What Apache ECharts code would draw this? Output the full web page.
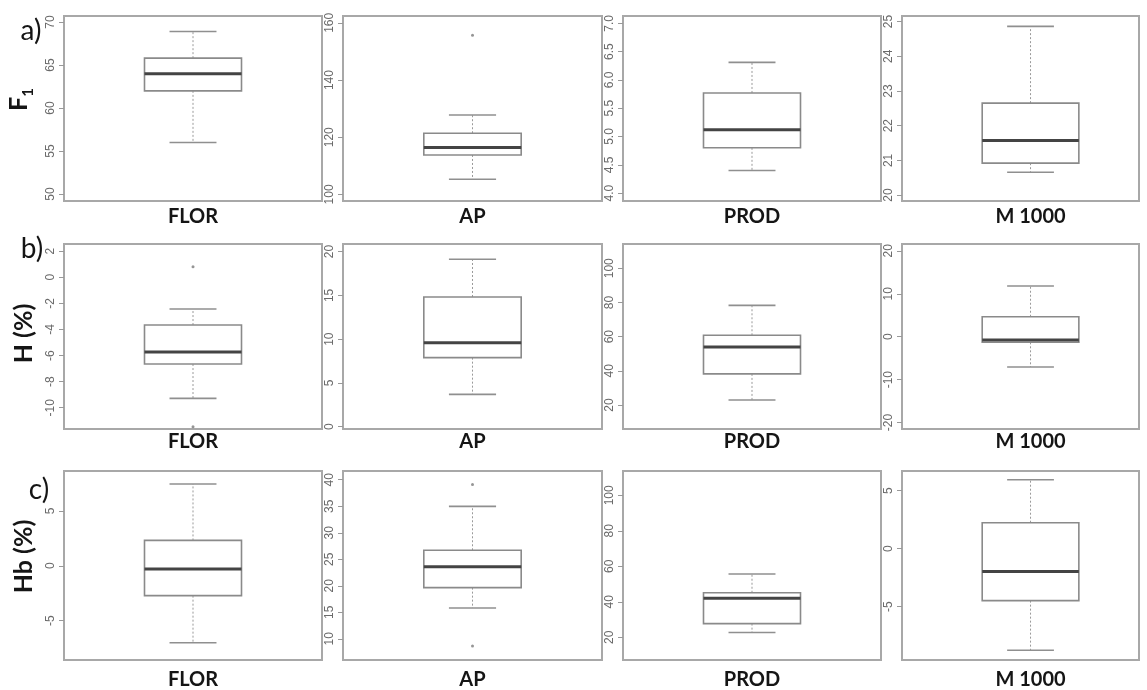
<!DOCTYPE html>
<html><head><meta charset="utf-8">
<script src="https://cdn.jsdelivr.net/npm/echarts@6/dist/echarts.min.js"></script>
<style>html,body{margin:0;padding:0;background:#fff}#c{width:1147px;height:690px}</style>
</head><body><div id="c"></div><script>
// ---- data ----
const categories = ['FLOR', 'AP', 'PROD', 'M 1000'];
const rowTags = ['a)', 'b)', 'c)'];
const rowTitles = ['{m|F}{s|1}', 'H (%)', 'Hb (%)'];
// [lower whisker, Q1, median, Q3, upper whisker]
const statsF1 = [[56.0, 62.0, 64.0, 65.8, 68.9], [105.3, 113.8, 116.4, 121.4, 127.8], [4.40, 4.80, 5.12, 5.77, 6.31], [20.66, 20.92, 21.57, 22.65, 24.86]];
const statsH = [[-9.28, -6.65, -5.73, -3.66, -2.43], [3.7, 7.89, 9.6, 14.82, 19.13], [22.9, 38.2, 53.95, 60.8, 78.3], [-7.05, -1.3, -0.77, 4.65, 11.8]];
const statsHb = [[-7.01, -2.72, -0.3, 2.31, 7.45], [15.8, 19.65, 23.6, 26.7, 34.98], [22.7, 27.7, 41.96, 45.1, 55.7], [-8.76, -4.48, -1.96, 2.24, 5.94]];
const outliersF1 = [[], [155.7], [], []];
const outliersH = [[0.81, -11.45], [], [], []];
const outliersHb = [[], [39.08, 8.62], [], []];
const yRangesF1 = [[49.2, 70.7], [97.7, 162.4], [3.86, 7.13], [19.83, 25.16]];
const yRangesH = [[-11.63, 2.55], [-0.26, 20.87], [5.96, 114.2], [-21.5, 21.6]];
const yRangesHb = [[-8.58, 8.63], [6.0, 41.65], [7.2, 113.7], [-9.6, 6.7]];
const yTicksF1 = [[50, 55, 60, 65, 70], [100, 120, 140, 160], [4, 4.5, 5, 5.5, 6, 6.5, 7], [20, 21, 22, 23, 24, 25]];
const yTicksH = [[-10, -8, -6, -4, -2, 0, 2], [0, 5, 10, 15, 20], [20, 40, 60, 80, 100], [-20, -10, 0, 10, 20]];
const yTicksHb = [[-5, 0, 5], [10, 15, 20, 25, 30, 35, 40], [20, 40, 60, 80, 100], [-5, 0, 5]];

const stats = [statsF1, statsH, statsHb];
const outliers = [outliersF1, outliersH, outliersHb];
const yRanges = [yRangesF1, yRangesH, yRangesHb];
const yTicks = [yTicksF1, yTicksH, yTicksHb];

// ---- layout ----
const colLeft = [64, 343, 623, 902];
const colWidth = [258, 259, 258, 237];
const rowTop = [16, 244, 471];
const rowHeight = [185, 185, 194];
const xMax = [1, 1, 1, 0.844];
const labelMargin = [6, 3, 10];
const nameGap = [28, 28, 28];
const nameShift = [18, 6, 18];
const BOX_HALF = 0.376, CAP_HALF = 0.182;
const TXT = '#151515';

function renderBox(params, api) {
  const x = api.value(0);
  const lo = api.coord([x, api.value(1)]);
  const q1 = api.coord([x, api.value(2)]);
  const md = api.coord([x, api.value(3)]);
  const q3 = api.coord([x, api.value(4)]);
  const hi = api.coord([x, api.value(5)]);
  const hb = api.size([BOX_HALF, 0])[0];
  const hc = api.size([CAP_HALF, 0])[0];
  const cx = md[0];
  const dash = {stroke: '#9a9a9a', lineWidth: 1, lineDash: [2, 2]};
  const solid = {stroke: '#8f8f8f', lineWidth: 1.6};
  return {
    type: 'group',
    children: [
      {type: 'line', shape: {x1: cx, y1: q3[1], x2: cx, y2: hi[1]}, style: dash},
      {type: 'line', shape: {x1: cx, y1: q1[1], x2: cx, y2: lo[1]}, style: dash},
      {type: 'line', shape: {x1: cx - hc, y1: hi[1], x2: cx + hc, y2: hi[1]}, style: solid},
      {type: 'line', shape: {x1: cx - hc, y1: lo[1], x2: cx + hc, y2: lo[1]}, style: solid},
      {type: 'rect', shape: {x: cx - hb, y: q3[1], width: 2 * hb, height: q1[1] - q3[1]},
        style: {fill: '#fff', stroke: '#8a8a8a', lineWidth: 1.6}},
      {type: 'line', shape: {x1: cx - hb, y1: md[1], x2: cx + hb, y2: md[1]},
        style: {stroke: '#444', lineWidth: 3}}
    ]
  };
}

const grids = [], xAxes = [], yAxes = [], series = [];
for (let r = 0; r < 3; r++) {
  for (let c = 0; c < 4; c++) {
    const i = r * 4 + c;
    grids.push({left: colLeft[c], top: rowTop[r], width: colWidth[c], height: rowHeight[r],
      show: true, borderColor: '#a8a8a8', borderWidth: 2, backgroundColor: 'transparent'});
    xAxes.push({type: 'value', gridIndex: i, min: -1, max: xMax[c],
      axisLine: {show: false, onZero: false}, axisTick: {show: false}, splitLine: {show: false},
      axisLabel: {customValues: [0], formatter: () => categories[c], margin: labelMargin[r],
        fontFamily: 'Lato', fontWeight: 'bold', fontSize: 20, color: TXT}});
    const ticks = yTicks[r][c];
    const dec = ticks.some(t => !Number.isInteger(t)) ? 1 : 0;
    const ya = {type: 'value', gridIndex: i, min: yRanges[r][c][0], max: yRanges[r][c][1],
      axisLine: {show: false, onZero: false}, splitLine: {show: false},
      axisTick: {show: true, customValues: ticks, length: 5, lineStyle: {color: '#999', width: 1}},
      axisLabel: {customValues: ticks, rotate: 90, margin: 7, fontFamily: 'Liberation Sans',
        fontSize: 12, color: '#6a6a6a', formatter: v => Number(v).toFixed(dec)}};
    if (c === 0) {
      const big = {fontFamily: 'Lato', fontWeight: 'bold', fontSize: 25, color: TXT};
      Object.assign(ya, {name: rowTitles[r], nameLocation: 'middle', nameRotate: 90, nameGap: nameGap[r],
        nameTextStyle: Object.assign({}, big, {padding: [0, 0, 0, nameShift[r]],
          rich: {m: Object.assign({}, big, {lineHeight: 34, verticalAlign: 'middle'}),
                 s: Object.assign({}, big, {fontSize: 15, lineHeight: 15, verticalAlign: 'bottom'})}})});
    }
    yAxes.push(ya);
    series.push({type: 'custom', xAxisIndex: i, yAxisIndex: i, renderItem: renderBox,
      encode: {x: 0, y: [1, 2, 3, 4, 5]}, data: [[0].concat(stats[r][c])], silent: true});
    if (outliers[r][c].length) {
      series.push({type: 'scatter', xAxisIndex: i, yAxisIndex: i, symbol: 'circle', symbolSize: 3,
        itemStyle: {color: '#7a7a7a'}, silent: true, data: outliers[r][c].map(v => [0, v])});
    }
  }
}

const tagPos = [[31, 31], [32, 249], [39, 490]];
const chart = echarts.init(document.getElementById('c'), null, {renderer: 'canvas'});
chart.setOption({
  animation: false,
  backgroundColor: '#fff',
  grid: grids, xAxis: xAxes, yAxis: yAxes, series: series,
  graphic: rowTags.map((t, r) => ({type: 'text', x: tagPos[r][0], y: tagPos[r][1],
    style: {text: t, fontFamily: 'Lato', fontSize: 28, fill: TXT, textAlign: 'center', textVerticalAlign: 'middle'}}))
});
</script></body></html>
